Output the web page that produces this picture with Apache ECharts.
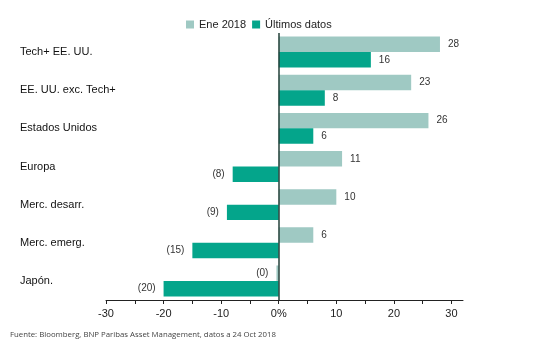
<!DOCTYPE html>
<html>
<head>
<meta charset="utf-8">
<script src="https://cdn.jsdelivr.net/npm/echarts@6/dist/echarts.min.js"></script>
<style>
  html, body { margin: 0; padding: 0; background: #fff; }
  #chart { width: 547px; height: 353px; }
</style>
</head>
<body>
<div id="chart"></div>
<script>
// categories, top to bottom
const categories = [
  "Tech+ EE. UU.",
  "EE. UU. exc. Tech+",
  "Estados Unidos",
  "Europa",
  "Merc. desarr.",
  "Merc. emerg.",
  "Japón."
];
// Ene 2018 (Japan is a hair below zero, shown as "(0)")
const ene2018 = [28, 23, 26, 11, 10, 6, -0.4];
// latest data
const ultimos = [16, 8, 6, -8, -9, -15, -20];
// axis ticks
const tickValues = [-30, -25, -20, -15, -10, -5, 0, 5, 10, 15, 20, 25, 30];
const labelValues = [-30, -20, -10, 0, 10, 20, 30];

const colorLight = "#9fc9c3";
const colorDark = "#04a58b";

// label like the source: negatives in brackets
function fmtValue(p) {
  const v = p.value;
  return v < 0 ? "(" + Math.round(-v) + ")" : String(Math.round(v));
}

const chart = echarts.init(document.getElementById("chart"));

const valueLabel = {
  show: true,
  distance: 8,
  fontSize: 10,
  color: "#333",
  fontFamily: "Liberation Sans, Arial, sans-serif",
  formatter: fmtValue
};

function seriesData(arr) {
  return arr.map((v) => ({
    value: v,
    label: { position: v < 0 ? "left" : "right" }
  }));
}

chart.setOption({
  animation: false,
  textStyle: { fontFamily: "Liberation Sans, Arial, sans-serif" },
  legend: {
    top: 14,
    left: 181,
    icon: "rect",
    itemWidth: 8,
    itemHeight: 8,
    itemGap: 6,
    textStyle: { fontSize: 11, color: "#222" },
    data: ["Ene 2018", "Últimos datos"]
  },
  grid: { left: 106, right: 84, top: 33, bottom: 53 },
  xAxis: {
    type: "value",
    min: -30,
    max: 32,
    interval: 10,
    axisLine: { show: true, onZero: false, lineStyle: { color: "#222", width: 1 } },
    axisTick: { show: true, length: 4, customValues: tickValues, lineStyle: { color: "#222" } },
    axisLabel: {
      customValues: labelValues,
      fontSize: 11,
      color: "#222",
      margin: 8,
      formatter: (v) => (v === 0 ? "0%" : String(v))
    },
    splitLine: { show: false }
  },
  yAxis: {
    type: "category",
    inverse: true,
    data: categories,
    axisLine: { show: false, onZero: false },
    axisTick: { show: false },
    axisLabel: {
      align: "left",
      margin: 86,
      fontSize: 11,
      color: "#111"
    }
  },
  series: [
    {
      name: "Ene 2018",
      type: "bar",
      barGap: "0%",
      barCategoryGap: "19%",
      itemStyle: { color: colorLight },
      label: valueLabel,
      data: seriesData(ene2018)
    },
    {
      name: "Últimos datos",
      type: "bar",
      itemStyle: { color: colorDark },
      label: valueLabel,
      data: seriesData(ultimos),
      markLine: {
        silent: true,
        symbol: "none",
        label: { show: false },
        lineStyle: { color: "#24403a", width: 1.5, type: "solid" },
        data: [{ xAxis: 0 }]
      }
    }
  ],
  graphic: [
    {
      type: "text",
      left: 10,
      top: 331,
      style: {
        text: "Fuente: Bloomberg, BNP Paribas Asset Management, datos a 24 Oct 2018",
        fontSize: 7.8,
        fill: "#444",
        fontFamily: "Open Sans, sans-serif"
      }
    }
  ]
});
</script>
</body>
</html>
